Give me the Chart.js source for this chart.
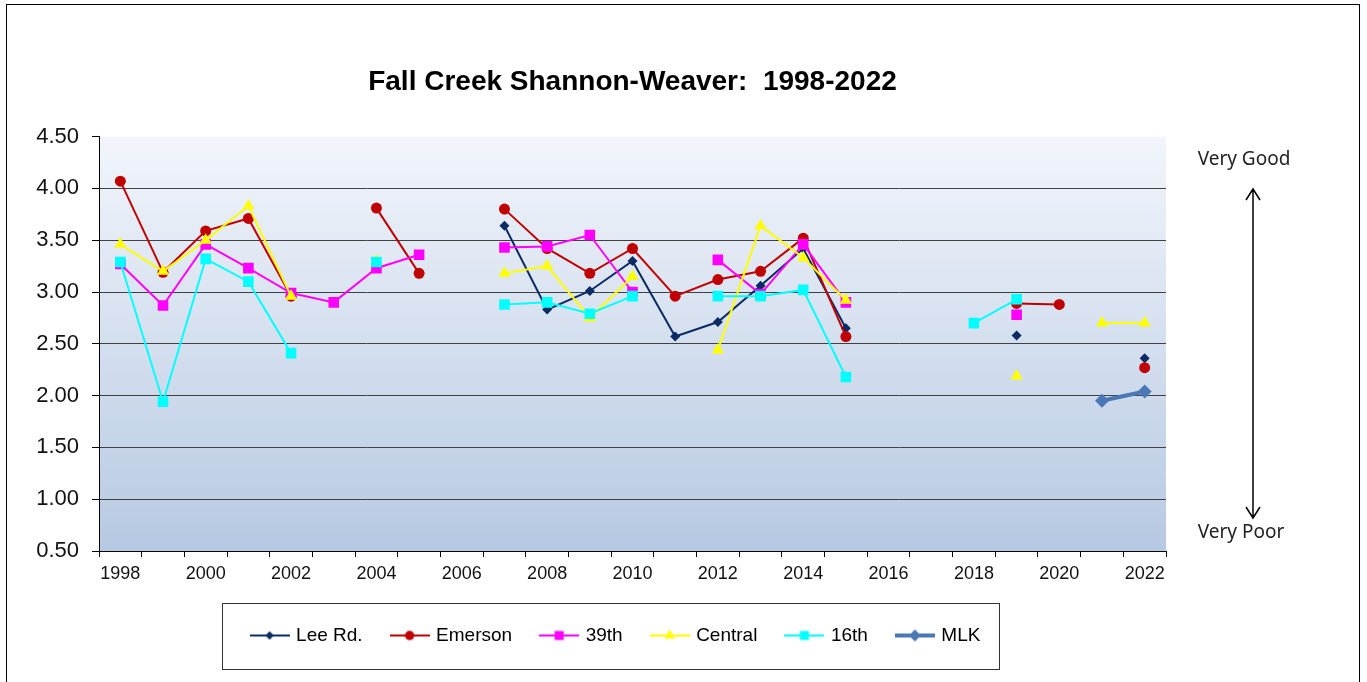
<!DOCTYPE html>
<html>
<head>
<meta charset="utf-8">
<title>Fall Creek Shannon-Weaver</title>
<script src="https://cdn.jsdelivr.net/npm/chart.js@4.4.1/dist/chart.umd.min.js"></script>
<style>
  html, body { margin: 0; padding: 0; background: #fff; }
  #chart { display: block; }
</style>
</head>
<body>
<canvas id="chart" width="1367" height="682"></canvas>
<script>
// years on the x axis, every other one gets a label
const years = ['1998', '1999', '2000', '2001', '2002', '2003', '2004', '2005', '2006', '2007', '2008', '2009', '2010',
  '2011', '2012', '2013', '2014', '2015', '2016', '2017', '2018', '2019', '2020', '2021', '2022'];
const xTickLabels = ['1998', '2000', '2002', '2004', '2006', '2008', '2010', '2012', '2014', '2016', '2018', '2020', '2022'];
const yTicks = [0.5, 1.0, 1.5, 2.0, 2.5, 3.0, 3.5, 4.0, 4.5];

// Shannon-Weaver index per site (null = not sampled)
const leeRd = [null, null, null, null, null, null, null, null, null, 3.64, 2.83, 3.01, 3.30,
  2.57, 2.71, 3.06, 3.42, 2.65, null, null, null, 2.58, null, null, 2.36];
const emerson = [4.07, 3.19, 3.59, 3.71, 2.96, null, 3.81, 3.18, null, 3.80, 3.42, 3.18, 3.42,
  2.96, 3.12, 3.20, 3.52, 2.57, null, null, null, 2.89, 2.88, null, 2.27];
const st39 = [3.27, 2.87, 3.46, 3.23, 2.99, 2.90, 3.23, 3.36, null, 3.43, 3.44, 3.55, 3.00,
  null, 3.31, 2.98, 3.46, 2.90, null, null, null, 2.78, null, null, null];
const central = [3.46, 3.20, 3.50, 3.83, 2.96, null, 3.30, null, null, 3.18, 3.25, 2.75, 3.15,
  null, 2.44, 3.64, 3.33, 2.92, null, null, null, 2.19, null, 2.70, 2.70];
const st16 = [3.29, 1.94, 3.32, 3.10, 2.41, null, 3.29, null, null, 2.88, 2.90, 2.79, 2.96,
  null, 2.96, 2.96, 3.02, 2.18, null, null, 2.70, 2.93, null, null, null];
const mlk = [null, null, null, null, null, null, null, null, null, null, null, null, null,
  null, null, null, null, null, null, null, null, null, null, 1.95, 2.04];

const siteNames = ['Lee Rd.', 'Emerson', '39th', 'Central', '16th', 'MLK'];
const siteValues = [leeRd, emerson, st39, central, st16, mlk];

const looks = [
  { color: '#0c2a64', point: 'rectRot', r: 5, width: 2 },
  { color: '#c00000', point: 'circle', r: 5.5, width: 2 },
  { color: '#ff00ff', point: 'rect', r: 7.5, width: 2 },
  { color: '#ffff00', point: 'triangle', r: 7, width: 2 },
  { color: '#00ffff', point: 'rect', r: 7.5, width: 2 },
  { color: '#4a78b4', point: 'rectRot', r: 7, width: 4 }
];

// little line+marker pictures for the legend
function legendIcon(look) {
  const c = document.createElement('canvas');
  c.width = 40;
  c.height = 16;
  const g = c.getContext('2d');
  g.strokeStyle = look.color;
  g.lineWidth = look.width;
  g.beginPath();
  g.moveTo(0, 8);
  g.lineTo(40, 8);
  g.stroke();
  g.fillStyle = look.color;
  Chart.helpers.drawPoint(g, { pointStyle: look.point, radius: look.r * 0.85, rotation: 0, borderWidth: 0 }, 20, 8);
  return c;
}
const icons = looks.map(legendIcon);

const datasets = siteNames.map((name, i) => ({
  label: name,
  data: siteValues[i],
  borderColor: looks[i].color,
  backgroundColor: looks[i].color,
  borderWidth: looks[i].width,
  pointStyle: looks[i].point,
  pointRadius: looks[i].r,
  pointBorderWidth: 0,
  tension: 0,
  spanGaps: false,
  order: siteNames.length - i   // later series drawn on top, like Excel
}));

const paperPlugin = {
  id: 'paper',
  beforeDraw(chart) {
    const ctx = chart.ctx;
    const a = chart.chartArea;
    ctx.save();
    ctx.fillStyle = '#fff';
    ctx.fillRect(0, 0, chart.width, chart.height);
    const grad = ctx.createLinearGradient(0, a.top, 0, a.bottom);
    grad.addColorStop(0, '#f2f5fb');
    grad.addColorStop(1, '#b6c9e2');
    ctx.fillStyle = grad;
    ctx.fillRect(a.left, a.top, a.right - a.left, a.bottom - a.top);
    ctx.strokeStyle = '#000';
    ctx.lineWidth = 1;
    ctx.strokeRect(6.5, 4.5, 1353, 720);
    ctx.restore();
  },
  afterDraw(chart) {
    const ctx = chart.ctx;
    ctx.save();
    // box round the legend
    const boxes = chart.legend.legendHitBoxes;
    if (boxes.length) {
      const first = boxes[0];
      const last = boxes[boxes.length - 1];
      const cy = first.top + first.height / 2;
      ctx.strokeStyle = '#333';
      ctx.lineWidth = 1;
      ctx.strokeRect(Math.round(first.left - 31) + 0.5, Math.round(cy - 33) + 0.5,
        Math.round(last.left + last.width + 18 - (first.left - 31)), 66);
    }
    // quality scale on the right
    ctx.fillStyle = '#222';
    ctx.font = '19px "Noto Sans"';
    ctx.textAlign = 'center';
    ctx.textBaseline = 'middle';
    ctx.fillText('Very Good', 1244, 160);
    ctx.fillText('Very Poor', 1241, 533);
    ctx.strokeStyle = '#000';
    ctx.lineWidth = 1.5;
    ctx.beginPath();
    ctx.moveTo(1253, 189);
    ctx.lineTo(1253, 518);
    ctx.moveTo(1246, 200);
    ctx.lineTo(1253, 189);
    ctx.lineTo(1260, 200);
    ctx.moveTo(1246, 507);
    ctx.lineTo(1253, 518);
    ctx.lineTo(1260, 507);
    ctx.stroke();
    ctx.restore();
  }
};

new Chart(document.getElementById('chart'), {
  type: 'line',
  data: { labels: years, datasets: datasets },
  plugins: [paperPlugin],
  options: {
    responsive: false,
    animation: false,
    events: [],
    layout: { padding: { left: 0, right: 134, top: 0, bottom: 27 } },
    plugins: {
      tooltip: { enabled: false },
      title: {
        display: true,
        fullSize: false,
        text: 'Fall Creek Shannon-Weaver:  1998-2022',
        color: '#000',
        font: { family: '"Liberation Sans", Arial', size: 28, weight: 'bold' },
        padding: { top: 65, bottom: 38 }
      },
      legend: {
        position: 'bottom',
        labels: {
          usePointStyle: true,
          pointStyleWidth: 34,
          padding: 30,
          color: '#000',
          font: { family: '"Liberation Sans", Arial', size: 19 },
          generateLabels: chart => chart.data.datasets.map((ds, i) => ({
            text: ds.label,
            pointStyle: icons[i],
            fillStyle: ds.borderColor,
            strokeStyle: ds.borderColor,
            fontColor: '#000',
            lineWidth: 0,
            hidden: false,
            datasetIndex: i
          }))
        }
      }
    },
    scales: {
      x: {
        offset: true,
        grid: { offset: true, drawOnChartArea: false, drawTicks: true, tickLength: 6, color: '#000' },
        border: { color: '#000', width: 1 },
        ticks: {
          autoSkip: false,
          maxRotation: 0,
          padding: 6,
          color: '#111',
          font: { family: '"Liberation Sans", Arial', size: 18 },
          callback: (val, idx) => xTickLabels.includes(years[idx]) ? years[idx] : ''
        },
        afterFit: s => { s.height = 45; }
      },
      y: {
        min: yTicks[0],
        max: yTicks[yTicks.length - 1],
        grid: {
          color: c => (c.tick && c.tick.value === yTicks[yTicks.length - 1]) ? 'rgba(0,0,0,0)' : '#404040',
          tickColor: '#000',
          tickLength: 7
        },
        border: { color: '#000', width: 1 },
        ticks: {
          stepSize: 0.5,
          padding: 13,
          color: '#111',
          font: { family: '"Liberation Sans", Arial', size: 22 },
          callback: v => v.toFixed(2)
        },
        afterFit: s => { s.width = 99; }
      },
      yR: {
        position: 'right',
        display: true,
        grid: { display: false },
        border: { display: false },
        ticks: { display: false },
        afterFit: s => { s.width = 67; }
      }
    }
  }
});
</script>
</body>
</html>
